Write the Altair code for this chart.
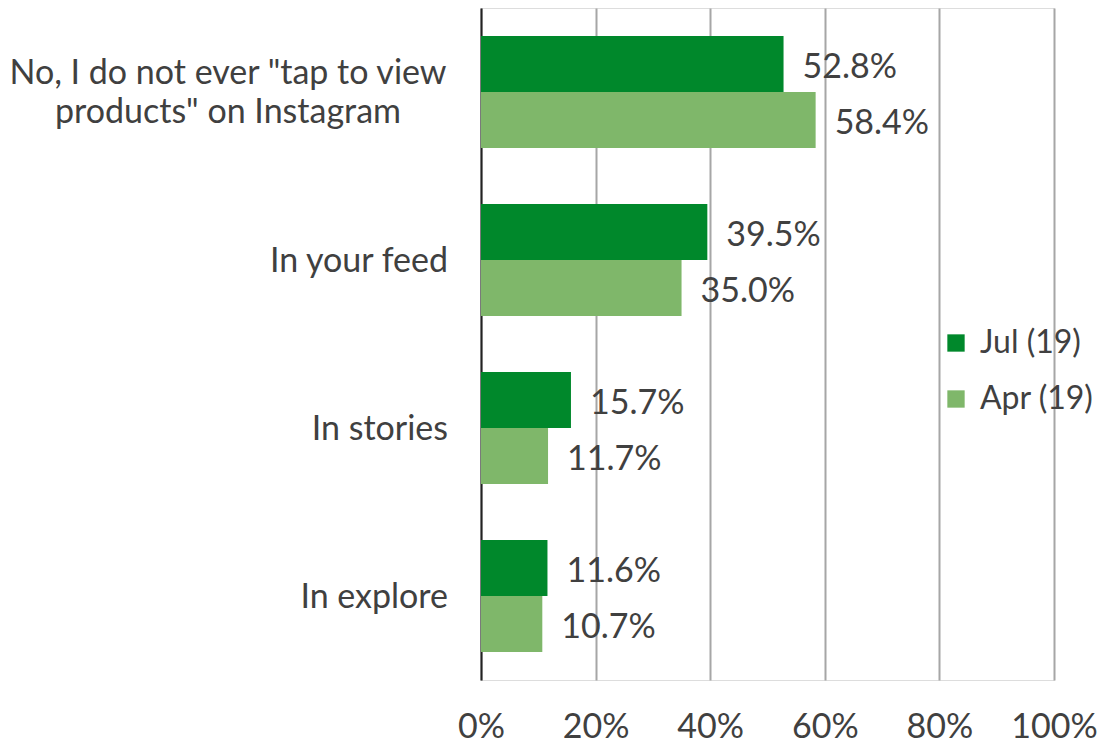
import altair as alt
import pandas as pd

categories = ["No, I do not ever tap", "In your feed", "In stories", "In explore"]
label_lines = [
    ['No, I do not ever "tap to view', 'products" on Instagram'],
    ["In your feed"],
    ["In stories"],
    ["In explore"],
]
series = ["Jul (19)", "Apr (19)"]
jul = [52.8, 39.5, 15.7, 11.6]
apr = [58.4, 35.0, 11.7, 10.7]
colors = ["#00882B", "#7FB76A"]
x_ticks = [0, 20, 40, 60, 80, 100]

FONT = "Lato"
FS = 34
FW = 400
TXT = "#404040"

rows = []
for c, j, a in zip(categories, jul, apr):
    rows.append({"category": c, "series": series[0], "value": j, "label": f"{j:.1f}%"})
    rows.append({"category": c, "series": series[1], "value": a, "label": f"{a:.1f}%"})
df = pd.DataFrame(rows)
lab = pd.DataFrame({"category": categories, "lines": label_lines})

yscale = alt.Scale(domain=categories, paddingInner=0.333, paddingOuter=0.1667)

base = alt.Chart(df)

bars = base.mark_bar().encode(
    x=alt.X("value:Q", scale=alt.Scale(domain=[0, 100]),
            axis=alt.Axis(values=x_ticks, labelExpr="datum.value + '%'", title=None,
                          grid=True, gridColor="#A6A6A6", gridWidth=2, domain=False,
                          ticks=False, labelPadding=30, labelFontSize=FS, labelColor=TXT,
                          labelFont=FONT, labelFontWeight=FW, labelFlush=False)),
    y=alt.Y("category:N", scale=yscale,
            axis=alt.Axis(labels=False, ticks=False, title=None, grid=False,
                          domainColor="#222222", domainWidth=2)),
    yOffset=alt.YOffset("series:N", sort=series),
    color=alt.Color("series:N", sort=series,
                    scale=alt.Scale(domain=series, range=colors),
                    legend=alt.Legend(title=None, orient="none", legendX=459, legendY=319,
                                      symbolType="square", symbolSize=300,
                                      symbolStrokeWidth=0, labelFontSize=32,
                                      labelFont=FONT, labelFontWeight=FW, labelColor=TXT,
                                      rowPadding=24, labelOffset=8)),
)

values = base.mark_text(align="left", baseline="middle", dx=19, dy=4, fontSize=FS,
                        font=FONT, fontWeight=FW, color=TXT).encode(
    x="value:Q",
    y=alt.Y("category:N", scale=yscale),
    yOffset=alt.YOffset("series:N", sort=series),
    text="label:N",
)

lab_first = alt.Chart(lab).transform_filter(
    alt.datum.category == categories[0]
).mark_text(align="center", baseline="middle", fontSize=FS, font=FONT, fontWeight=FW,
            color=TXT, lineHeight=39, dy=-18).encode(
    x=alt.value(-253),
    y=alt.Y("category:N", scale=yscale),
    text="lines",
)

lab_rest = alt.Chart(lab).transform_filter(
    alt.datum.category != categories[0]
).mark_text(align="right", baseline="middle", fontSize=FS, font=FONT, fontWeight=FW,
            color=TXT, dy=2).encode(
    x=alt.value(-33),
    y=alt.Y("category:N", scale=yscale),
    text="lines",
)

chart = alt.layer(bars, values, lab_first, lab_rest).properties(
    width=573, height=672,
    padding={"left": 481, "top": 8, "right": 46, "bottom": 64},
    autosize=alt.AutoSizeParams(type="none"),
).configure_view(stroke=None).configure(background="white")

chart.save("out.html", embed_options={"renderer": "svg", "actions": False})
